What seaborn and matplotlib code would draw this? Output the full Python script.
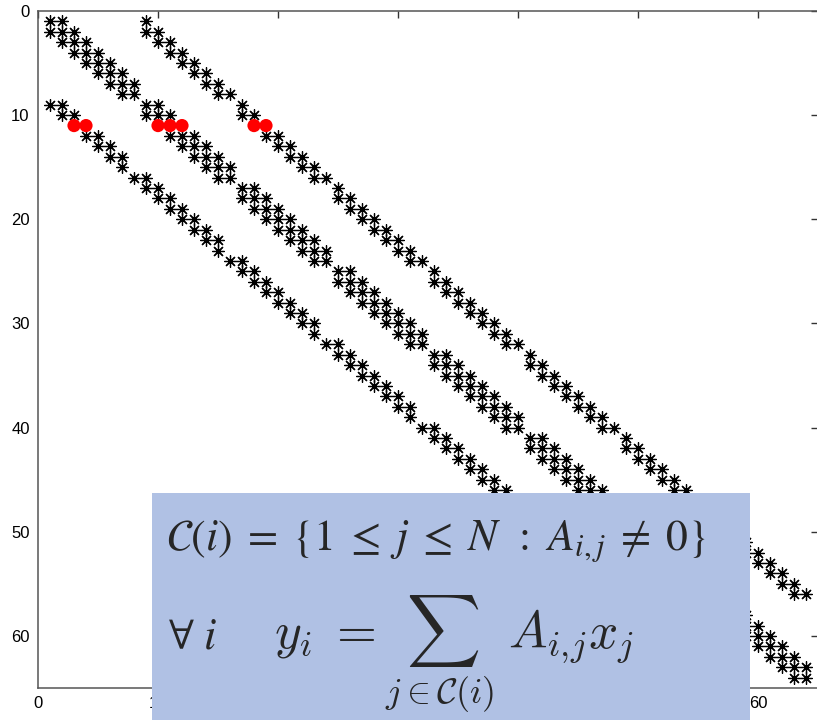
import numpy as np
import pandas as pd
import matplotlib
matplotlib.use("Agg")
import matplotlib.pyplot as plt
from matplotlib.patches import Rectangle
import seaborn as sns

# ---- sparsity structure of the 64 x 64 matrix (0-based indices) ----
N = 64
GRID_WIDTH = 8                       # unknowns per grid line
MAIN_OFFSETS = [-1, 0, 1]            # coupling along a grid line
UPPER_OFFSETS = [7, 8]               # coupling to the next grid line
LOWER_OFFSETS = [-8, -7]             # coupling to the previous grid line
# rows whose +7 entry is absent
UPPER_SKIP_ROWS = [0, 8, 16, 24, 32, 40, 48, 56]
# rows whose -7 entry is absent
LOWER_SKIP_ROWS = [7, 14, 22, 30, 38, 46, 54, 62]
# the row whose column set C(i) is highlighted
HIGHLIGHT_ROW = 10
AXIS_LIMIT = 65
TICKS = [0, 10, 20, 30, 40, 50, 60]
X_TICK_LABELS = ["0", "10", "", "", "", "", "60"]   # the panel hides the rest


def nonzeros():
    rows, cols = [], []
    for i in range(N):
        line = i // GRID_WIDTH
        for k in MAIN_OFFSETS:
            j = i + k
            if 0 <= j < N and j // GRID_WIDTH == line:
                rows.append(i); cols.append(j)
        for k in UPPER_OFFSETS:
            j = i + k
            if j < N and not (k == 7 and i in UPPER_SKIP_ROWS):
                rows.append(i); cols.append(j)
        for k in LOWER_OFFSETS:
            j = i + k
            if j >= 0 and not (k == -7 and i in LOWER_SKIP_ROWS):
                rows.append(i); cols.append(j)
    df = pd.DataFrame({"row": rows, "col": cols})
    # spy-style display counts rows and columns from 1
    df["y"] = df["row"] + 1
    df["x"] = df["col"] + 1
    return df


pattern = nonzeros()
highlight = pattern[pattern["row"] == HIGHLIGHT_ROW]
others = pattern[pattern["row"] != HIGHLIGHT_ROW]

sns.set_style("white")
plt.rcParams["font.family"] = ["Liberation Sans", "DejaVu Sans"]

fig = plt.figure(figsize=(8.17, 7.2), dpi=100)
ax = fig.add_axes([38 / 817, 1 - 688 / 720, 780 / 817, 677 / 720])

sns.scatterplot(data=others, x="x", y="y", ax=ax, marker=(8, 2, 0), s=72,
                color="black", edgecolor="black", linewidth=0.9, legend=False,
                zorder=3)
sns.scatterplot(data=highlight, x="x", y="y", ax=ax, marker="o", s=90,
                color="#ff0000", edgecolor="none", linewidth=0, legend=False,
                zorder=4)

ax.set_xlim(0, AXIS_LIMIT)
ax.set_ylim(AXIS_LIMIT, 0)
ax.set_xticks(TICKS)
ax.set_xticklabels(X_TICK_LABELS)
ax.set_yticks(TICKS)
ax.set_xlabel("")
ax.set_ylabel("")
ax.tick_params(direction="in", length=5, width=1, top=True, right=True,
               labelsize=12, colors="#333333", labelcolor="black", pad=6)
for side in ["left", "right", "top", "bottom"]:
    ax.spines[side].set_visible(True)
    ax.spines[side].set_color("#555555")
    ax.spines[side].set_linewidth(1.1)

ax.text(428, 118, r"$\mathcal{C}(%d)$" % HIGHLIGHT_ROW, transform=None,
        color="#ff0000", fontsize=28, ha="center", va="center",
        math_fontfamily="stix")

# definition panel
box = Rectangle((152 / 817, 0), (750 - 152) / 817, (720 - 493) / 720,
                transform=fig.transFigure, facecolor="#b0c1e4",
                edgecolor="none", zorder=5)
fig.add_artist(box)
fig.text(166 / 817, 1 - 541 / 720,
         r"$\mathcal{C}(i)\;=\;\{1\;\leq\;j\;\leq\;N\ \,:\ A_{i,j}\;\neq\;0\}$",
         fontsize=31.5, ha="left", va="center", math_fontfamily="stix",
         zorder=6)
fig.text(168 / 817, 1 - 637 / 720, r"$\forall\ i$", fontsize=32,
         ha="left", va="center", math_fontfamily="stix", zorder=6)
fig.text(274 / 817, 1 - 654 / 720,
         r"$y_i\;=\sum_{j\in\mathcal{C}(i)}\;A_{i,\!j}x_j$",
         fontsize=37, ha="left", va="center", math_fontfamily="cm", zorder=6)

fig.savefig("out.png", dpi=100)
